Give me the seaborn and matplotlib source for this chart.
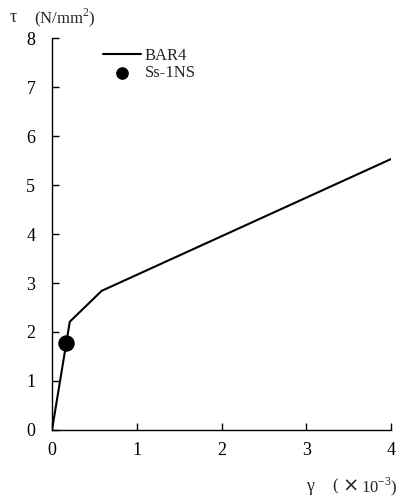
import matplotlib
matplotlib.use("Agg")
import matplotlib.pyplot as plt
import seaborn as sns
import pandas as pd

gamma = [0.0, 0.21, 0.586, 4.0]
tau = [0.0, 2.21, 2.84, 5.53]
pt_gamma = [0.165]
pt_tau = [1.78]
xticks = [0, 1, 2, 3, 4]
yticks = [0, 1, 2, 3, 4, 5, 6, 7, 8]

sns.set_theme(style="ticks")
plt.rcParams['font.family'] = ['Liberation Serif', 'DejaVu Serif']
plt.rcParams['mathtext.fontset'] = 'custom'
plt.rcParams['mathtext.rm'] = 'Liberation Serif'

fig = plt.figure(figsize=(4.0, 4.99), dpi=100)
ax = fig.add_axes([0.13, 0.1383, 0.8475, 0.7855])

df_line = pd.DataFrame({"gamma": gamma, "tau": tau})
df_pt = pd.DataFrame({"gamma": pt_gamma, "tau": pt_tau})
sns.lineplot(data=df_line, x="gamma", y="tau", ax=ax, color="black", lw=1.5, label="BAR4")
sns.scatterplot(data=df_pt, x="gamma", y="tau", ax=ax, color="black", s=120, edgecolor="black", label="Ss-1NS", zorder=5)

ax.set_xlim(0, 4)
ax.set_ylim(0, 8)
ax.set_xticks(xticks)
ax.set_yticks(yticks)
ax.tick_params(direction="in", length=5, width=1, labelsize=13, colors="black")
ax.tick_params(axis="y", pad=12)
ax.tick_params(axis="x", pad=9)
for s in ["top", "right"]:
    ax.spines[s].set_visible(False)
for s in ["left", "bottom"]:
    ax.spines[s].set_color("black")
    ax.spines[s].set_linewidth(1)
ax.set_xlabel("")
ax.set_ylabel("")
ax.grid(False)

leg = ax.legend(loc="upper left", bbox_to_anchor=(0.125, 0.995), frameon=False, fontsize=12,
                handlelength=2.3, handletextpad=0.2, borderpad=0, labelspacing=0.05, markerscale=0.75)

fig.text(0.025, 0.965, "τ", fontsize=13, ha="left", va="center")
fig.text(0.085, 0.965, "(N/mm$^{2}$)", fontsize=12, ha="left", va="center")
fig.text(0.765, 0.025, "γ", fontsize=13, ha="left", va="center")
fig.text(0.83, 0.025, "(", fontsize=12, ha="left", va="center")
fig.text(0.855, 0.025, "×", fontsize=14, ha="left", va="center", family="DejaVu Sans")
fig.text(0.995, 0.025, "10$^{-3}$)", fontsize=12, ha="right", va="center")

fig.savefig("out.png", dpi=100)
